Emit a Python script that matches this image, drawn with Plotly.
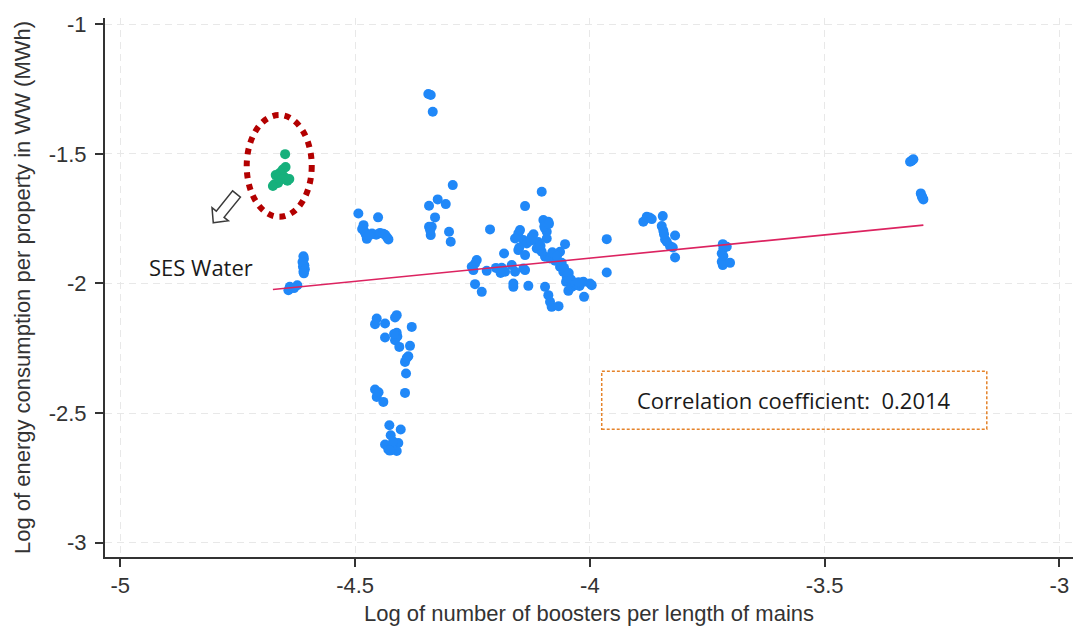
import numpy as np
import plotly.graph_objects as go

# SES Water observations (log boosters per km of mains, log MWh per property)
ses_x = [-4.649, -4.648, -4.654, -4.660, -4.669, -4.662, -4.650, -4.644,
         -4.656, -4.672, -4.664, -4.675, -4.640]
ses_y = [-1.501, -1.551, -1.560, -1.573, -1.582, -1.590, -1.590, -1.604,
         -1.598, -1.617, -1.612, -1.624, -1.597]

# All other companies
other_x = [
    # around -4.6
    -4.610, -4.609, -4.612, -4.608, -4.611, -4.607, -4.610, -4.609,
    -4.639, -4.642, -4.623, -4.630,
    # around -4.47, upper group
    -4.493, -4.451, -4.482, -4.485, -4.480, -4.477, -4.475, -4.464,
    -4.455, -4.447, -4.440, -4.436, -4.432, -4.429, -4.470,
    # around -4.42, lower group
    -4.4539, -4.4575, -4.4362, -4.4113, -4.4149, -4.3793, -4.4362, -4.4113,
    -4.4149, -4.4058, -4.3830, -4.3866, -4.3936, -4.3915, -4.3936, -4.4575,
    -4.4539, -4.4398, -4.4270, -4.4028, -4.4241, -4.4362, -4.4079, -4.4292,
    -4.4113, -4.4219, -4.4100, -4.3900, -4.4170, -4.4500, -4.4190, -4.4260,
    # around -4.33
    -4.3440, -4.3389, -4.3346, -4.2920, -4.3240, -4.3069, -4.3425, -4.3297,
    -4.3425, -4.3367, -4.3389, -4.2999, -4.2963, -4.3400,
    # central group
    -4.1025, -4.1380, -4.2126, -4.0990, -4.0884, -4.0954, -4.0918, -4.1523,
    -4.1487, -4.1593, -4.1416, -4.1238, -4.0918, -4.1344, -4.1502, -4.1523,
    -4.1131, -4.1025, -4.0528, -3.9640, -4.0954, -4.0635, -4.1827, -4.1380,
    -4.0848, -4.0741, -4.2409, -4.2445, -4.2515, -4.2481, -4.2196, -4.1877,
    -4.1663, -4.1806, -4.1593, -4.1380, -4.1416, -4.0635, -4.0565, -3.9640,
    -4.0492, -4.2445, -4.2302, -4.1629, -4.1310, -4.0507, -4.0386, -4.0458,
    -4.0315, -4.0138, -3.9996, -3.9960, -4.0954, -4.0884, -4.0848, -4.0813,
    -4.0667, -4.0123, -4.1629, -4.1200, -4.1100, -4.0800, -4.0700, -4.0600,
    -4.0550, -4.0450, -4.0400, -4.0300, -4.0220, -4.1260, -4.1050, -4.0970,
    -4.0870, -4.2000, -4.1900, -4.0240,
    # around -3.85
    -3.8861, -3.8788, -3.8733, -3.8682, -3.8447, -3.8469, -3.8435, -3.8398,
    -3.8362, -3.8292, -3.8234, -3.8185, -3.8185, -3.8420,
    # around -3.71
    -3.7169, -3.7157, -3.7191, -3.7157, -3.7191, -3.7169, -3.7014, -3.7084,
    # around -3.3
    -3.3180, -3.3145, -3.3110, -3.2952, -3.2931, -3.2897, -3.2920,
]
other_y = [
    -1.895, -1.905, -1.917, -1.930, -1.936, -1.945, -1.955, -1.961,
    -2.013, -2.026, -2.007, -2.018,
    -1.730, -1.745, -1.775, -1.790, -1.800, -1.812, -1.828, -1.807,
    -1.812, -1.805, -1.808, -1.812, -1.822, -1.830, -1.815,
    -2.1351, -2.1571, -2.1544, -2.1224, -2.1313, -2.1676, -2.2085, -2.1907,
    -2.2189, -2.2448, -2.2409, -2.2807, -2.3027, -2.3475, -2.4224, -2.4093,
    -2.4378, -2.4571, -2.5471, -2.5637, -2.5857, -2.6216, -2.6154, -2.6409,
    -2.6463, -2.6309, -2.2050, -2.2880, -2.1950, -2.4200, -2.6100, -2.6450,
    -1.2691, -1.2730, -1.3375, -1.6205, -1.6757, -1.6938, -1.7004, -1.7452,
    -1.7815, -1.7815, -1.8135, -1.8008, -1.8394, -1.7950,
    -1.6463, -1.7015, -1.7915, -1.7556, -1.7622, -1.7876, -1.8008, -1.8069,
    -1.7942, -1.8263, -1.8328, -1.8201, -1.8263, -1.8456, -1.8610, -1.8714,
    -1.8649, -1.8780, -1.8483, -1.8290, -1.8973, -1.8780, -1.8842, -1.8907,
    -1.9035, -1.9127, -1.9100, -1.9228, -1.9359, -1.9486, -1.9514, -1.9398,
    -1.9293, -1.9552, -1.9552, -1.9486, -1.9421, -1.9359, -1.9552, -1.9575,
    -1.9745, -2.0027, -2.0324, -2.0131, -2.0093, -1.9938, -2.0131, -2.0286,
    -2.0066, -1.9938, -2.0000, -2.0066, -2.0131, -2.0452, -2.0710, -2.0903,
    -2.0876, -2.0517, -2.0000, -1.8100, -1.8400, -1.8800, -1.8950, -1.9200,
    -1.9400, -1.9600, -1.9850, -2.0000, -2.0100, -1.8350, -1.8550, -1.7800,
    -1.7700, -1.9400, -1.9600, -1.9950,
    -1.7622, -1.7429, -1.7452, -1.7517, -1.7402, -1.7788, -1.7969, -1.8301,
    -1.8394, -1.8560, -1.8610, -1.8147, -1.8996, -1.8100,
    -1.8483, -1.8649, -1.8842, -1.8946, -1.9166, -1.9293, -1.9205, -1.8587,
    -1.5305, -1.5260, -1.5212, -1.6525, -1.6629, -1.6757, -1.6680,
]

# Linear fit over the full sample and its correlation
fit_intercept = -1.1840
fit_slope = 0.1796
corr_coef = 0.2014

x_ticks = [-5, -4.5, -4, -3.5, -3]
x_tick_labels = ["-5", "-4.5", "-4", "-3.5", "-3"]
y_ticks = [-1, -1.5, -2, -2.5, -3]
y_tick_labels = ["-1", "-1.5", "-2", "-2.5", "-3"]

BLUE = "#2088f8"
GREEN = "#16b07c"
FIT = "#dc2360"
RING = "#b30000"

all_x = np.array(other_x + ses_x)
fit_x = np.array([all_x.min(), all_x.max()])
fit_y = fit_intercept + fit_slope * fit_x

fig = go.Figure()
fig.add_trace(go.Scatter(x=other_x, y=other_y, mode="markers",
                         marker=dict(color=BLUE, size=10, line=dict(width=0)),
                         hoverinfo="x+y"))
fig.add_trace(go.Scatter(x=ses_x, y=ses_y, mode="markers",
                         marker=dict(color=GREEN, size=10, line=dict(width=0)),
                         hoverinfo="x+y"))
fig.add_trace(go.Scatter(x=fit_x, y=fit_y, mode="lines",
                         line=dict(color=FIT, width=1.6), hoverinfo="skip"))

# dotted ring around the SES Water points
fig.add_shape(type="circle", xref="x", yref="y",
              x0=-4.7308, x1=-4.5923, y0=-1.743, y1=-1.350,
              line=dict(color=RING, width=6, dash="6px,6px"), layer="above")

# hollow block arrow pointing from the ring towards the label
tip_x, tip_y = -4.802, -1.766
direction = np.array([-23.4, -29.0])
direction /= np.linalg.norm(direction)
normal = np.array([-direction[1], direction[0]])
outline = [(0, 0), (11, 10.5), (11, 5), (37, 5), (37, -5), (11, -5), (11, -10.5)]
pts = [(-u * direction + v * normal) for u, v in outline]
arrow_path = "M " + " L ".join(f"{p[0]:.2f},{p[1]:.2f}" for p in pts) + " Z"
fig.add_shape(type="path", xref="x", yref="y",
              xsizemode="pixel", ysizemode="pixel",
              xanchor=tip_x, yanchor=tip_y, path=arrow_path,
              line=dict(color="#3a3a3a", width=1.5), fillcolor="white",
              layer="above")

fig.add_annotation(x=-4.829, y=-1.936, xref="x", yref="y", text="SES Water",
                   showarrow=False,
                   font=dict(family="Open Sans, Noto Sans, sans-serif",
                             size=22, color="#1a1a1a"))

# correlation box
fig.add_shape(type="rect", xref="x", yref="y",
              x0=-3.9747, x1=-3.1546, y0=-2.5625, y1=-2.3386,
              line=dict(color="#e5832a", width=1.5, dash="3px,2px"),
              layer="above")
fig.add_annotation(x=(-3.9747 + -3.1546) / 2, y=(-2.5625 + -2.3386) / 2,
                   xref="x", yref="y",
                   text=f"Correlation coefficient:&nbsp; {corr_coef:.4f}",
                   showarrow=False,
                   font=dict(family="Open Sans, Noto Sans, sans-serif",
                             size=22, color="#1a1a1a"))

axis_common = dict(
    showline=True, linecolor="#333333", linewidth=2,
    ticks="outside", ticklen=8, tickwidth=1.5, tickcolor="#333333",
    showgrid=True, gridcolor="#e8e8e8", gridwidth=1, griddash="7px,5px",
    zeroline=False, mirror=False,
    tickfont=dict(family="Liberation Sans, Arial, sans-serif", size=22,
                  color="#333333"),
)

fig.update_xaxes(range=[-5.0326, -2.971], tickvals=x_ticks,
                 ticktext=x_tick_labels,
                 title=dict(text="Log of number of boosters per length of mains",
                            font=dict(family="Liberation Sans, Arial, sans-serif",
                                      size=22, color="#333333"),
                            standoff=8),
                 **axis_common)
fig.update_yaxes(range=[-3.0556, -0.9757], tickvals=y_ticks,
                 ticktext=y_tick_labels, ticklabelstandoff=4,
                 title=dict(text="Log of energy consumption per property in WW (MWh)",
                            font=dict(family="Liberation Sans, Arial, sans-serif",
                                      size=22, color="#333333"),
                            standoff=12),
                 **axis_common)

fig.update_layout(width=1073, height=630,
                  margin=dict(l=105, r=0, t=18, b=73, pad=0),
                  plot_bgcolor="white", paper_bgcolor="white",
                  showlegend=False)

fig.write_html("out.html")
